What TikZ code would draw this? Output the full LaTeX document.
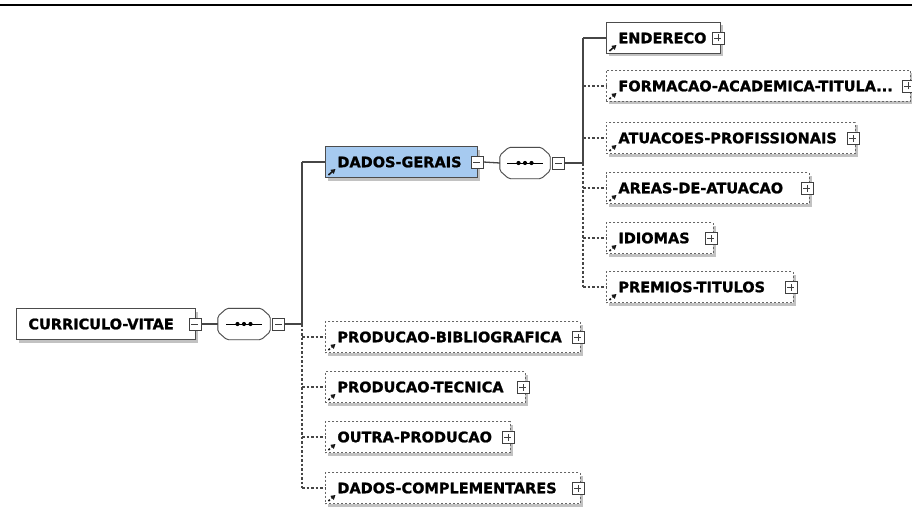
\documentclass[tikz,border=0pt]{standalone}
\usepackage{fontspec}
\setmainfont{DejaVu Sans}[BoldFeatures={FakeBold=1.2}]
\usepackage{tikz}
\usetikzlibrary{positioning,calc,arrows.meta,shadows}
\definecolor{geraisblue}{RGB}{166,202,240}
\definecolor{wiregray}{RGB}{70,70,70}
% outline of a sequence compositor round node #1
\newcommand{\seqshape}[1]{%
  \foreach \off/\col/\lc in {2/black!18/black!18,0/white/black!70} {
    \filldraw[seqline,fill=\col,draw=\lc,shift={(\off pt,-\off pt)}]
      ([xshift=9pt]#1.north west) -- ([xshift=-9pt]#1.north east)
      -- ([yshift=-8pt]#1.north east) -- ([yshift=8pt]#1.south east)
      -- ([xshift=-9pt]#1.south east) -- ([xshift=9pt]#1.south west)
      -- ([yshift=8pt]#1.south west) -- ([yshift=-8pt]#1.north west) -- cycle;
  }
  \draw[line width=1pt] ([xshift=-18pt]#1.center) -- ([xshift=18pt]#1.center);
  \foreach \d in {-6.5,0,6.5} \fill ([xshift=\d pt]#1.center) circle (2.1pt);
}

\begin{document}
\begin{tikzpicture}[x=1pt,y=1pt,font=\bfseries\fontsize{14.5}{16}\selectfont]
  \tikzset{
    elem/.style={draw=black!70,fill=white,line width=0.9pt,anchor=west,
                 minimum height=31pt,inner xsep=12pt,inner ysep=0pt,align=left,
                 drop shadow={shadow xshift=3pt,shadow yshift=-3pt,opacity=1,fill=black!24}},
    linked/.style={path picture={
        \draw[-{Triangle[length=4.5pt,width=5pt]},line width=1.6pt,black!90]
          ([shift={(3,2.5)}]path picture bounding box.south west) -- ++(7,6);}},
    optelem/.style={elem,linked,draw=black!60,dash pattern=on 2pt off 2pt},
    gerais/.style={elem,linked,fill=geraisblue},
    seqbox/.style={minimum width=52pt,minimum height=31pt,inner sep=0pt},
    seqline/.style={line width=0.9pt,rounded corners=1.8pt},
    expander/.style={draw=black!75,fill=white,line width=0.8pt,minimum size=12pt,inner sep=0pt},
    minusbox/.style={expander,path picture={
        \draw ([xshift=2.5pt]path picture bounding box.west) -- ([xshift=-2.5pt]path picture bounding box.east);}},
    plusbox/.style={expander,path picture={
        \draw ([xshift=2.5pt]path picture bounding box.west) -- ([xshift=-2.5pt]path picture bounding box.east);
        \draw ([yshift=2.5pt]path picture bounding box.south) -- ([yshift=-2.5pt]path picture bounding box.north);}},
    wire/.style={draw=wiregray,line width=1.3pt},
    optwire/.style={wire,dash pattern=on 2.5pt off 2pt},
  }
  \useasboundingbox (0,0) rectangle (912,-532);
  \draw[line width=2pt] (0,-5.5) -- (912,-5.5);
  % ---- root element ----
  \node[elem,text width=155pt] (cv) at (16,-324) {CURRICULO-VITAE};
  \node[minusbox] (cvm) at ([xshift=-1pt]cv.east) {};
  \node[seqbox] (seq1) at (244,-324) {};
  \seqshape{seq1}
  \node[minusbox,anchor=west] (seq1m) at ([xshift=2pt]seq1.east) {};
  \draw[wire] (cvm.east) -- (seq1.west);
  \coordinate (t1) at (302,-324);
  \draw[wire] (seq1m.east) -- (t1);
  % ---- DADOS-GERAIS ----
  \node[gerais,text width=128pt] (dg) at (325,-162) {DADOS-GERAIS};
  \node[minusbox] (dgm) at ([xshift=-1pt]dg.east) {};
  \node[seqbox,minimum width=50pt] (seq2) at (525,-163) {};
  \seqshape{seq2}
  \node[minusbox,anchor=west] (seq2m) at ([xshift=2pt]seq2.east) {};
  \draw[wire] (dgm.east) -- (seq2.west);
  \coordinate (t2) at (583,-163);
  \draw[wire] (seq2m.east) -- (t2);
  \draw[wire] (t1 |- dg.west) -- (t1);
  \draw[wire] (t1 |- dg.west) -- (dg.west);
  % ---- children of DADOS-GERAIS ----
  \node[elem,linked,text width=90pt] (adr) at (606,-38) {ENDERECO};
  \node[plusbox] (adrp) at ([xshift=-3pt]adr.east) {};
  \draw[wire] (t2 |- adr.west) -- (t2);
  \draw[wire] (t2 |- adr.west) -- (adr.west);
  \foreach \nm/\yy/\ww/\txt in {form/86/304/{FORMACAO-ACADEMICA-TITULA...},
                                atu/138/249/ATUACOES-PROFISSIONAIS,
                                area/188/203/AREAS-DE-ATUACAO,
                                idi/238/107/IDIOMAS,
                                prem/287/187/PREMIOS-TITULOS} {
    \pgfmathsetmacro\tw{\ww-24}
    \node[optelem,text width=\tw pt] (\nm) at (606,-\yy) {\txt};
    \node[plusbox] (\nm p) at ([xshift=-3pt]\nm.east) {};
    \draw[optwire] (t2 |- \nm.west) -- (\nm.west);
  }
  \draw[optwire] (t2) -- (t2 |- prem.west);
  % ---- other children of CURRICULO-VITAE ----
  \foreach \nm/\yy/\ww/\txt in {bib/337/255/PRODUCAO-BIBLIOGRAFICA,
                                tec/387/200/PRODUCAO-TECNICA,
                                out/437/185/OUTRA-PRODUCAO,
                                comp/488/255/DADOS-COMPLEMENTARES} {
    \pgfmathsetmacro\tw{\ww-24}
    \node[optelem,text width=\tw pt] (\nm) at (325,-\yy) {\txt};
    \node[plusbox] (\nm p) at ([xshift=-3pt]\nm.east) {};
    \draw[optwire] (t1 |- \nm.west) -- (\nm.west);
  }
  \draw[optwire] (t1) -- (t1 |- comp.west);
\end{tikzpicture}
\end{document}
